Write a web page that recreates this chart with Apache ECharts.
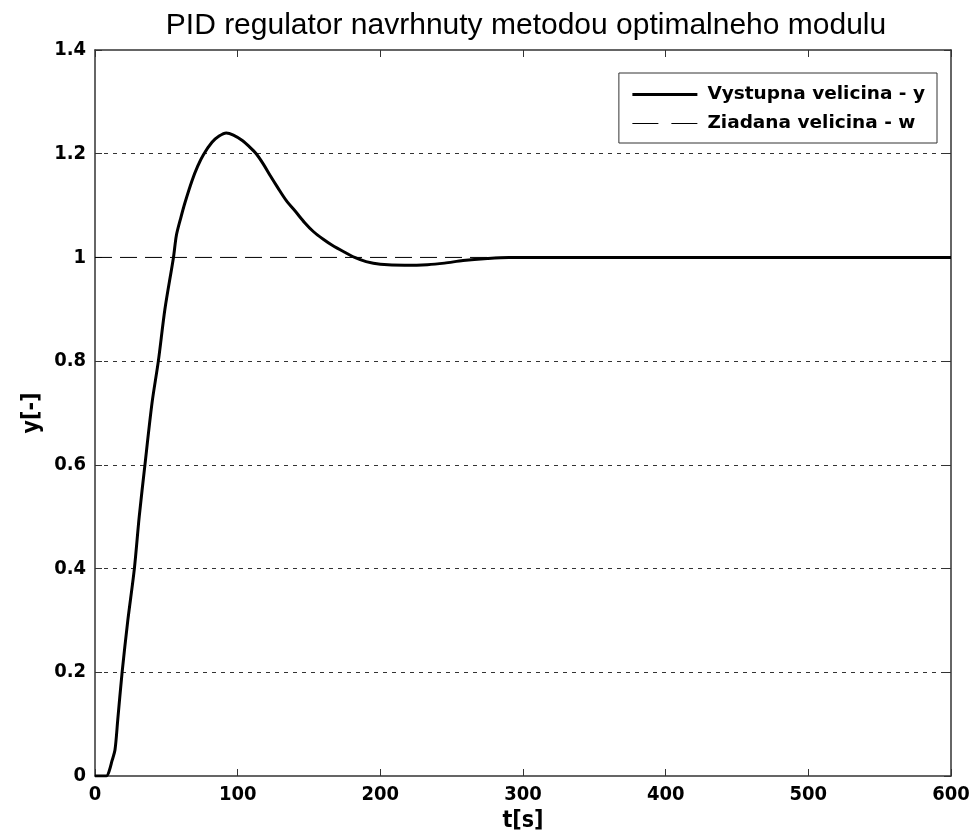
<!DOCTYPE html>
<html>
<head>
<meta charset="utf-8">
<script src="https://cdn.jsdelivr.net/npm/echarts@6/dist/echarts.min.js"></script>
<style>
html,body{margin:0;padding:0;background:#fff;}
#chart{width:976px;height:840px;}
</style>
</head>
<body>
<div id="chart"></div>
<script>
const titleText = 'PID regulator navrhnuty metodou optimalneho modulu';
const xTicks = [0, 100, 200, 300, 400, 500, 600];
const yTicks = [0, 0.2, 0.4, 0.6, 0.8, 1, 1.2, 1.4];
const seriesNames = ['Vystupna velicina - y', 'Ziadana velicina - w'];

// Output y(t)
const tValues = [0, 8, 10, 12, 14, 16, 19, 23, 27.6, 31, 35, 40, 44.4, 49, 55, 57, 60, 63, 68, 72, 76, 82, 87, 92, 97, 103, 108, 113, 118, 123, 128, 134, 141, 147, 153, 160, 166, 175, 182, 190, 200, 217, 233, 245, 258, 275, 290, 300, 400, 500, 600];
const yValues = [0, 0, 0.01, 0.03, 0.05, 0.11, 0.2, 0.3, 0.4, 0.5, 0.6, 0.72, 0.8, 0.9, 1.0, 1.042, 1.075, 1.105, 1.148, 1.176, 1.198, 1.222, 1.234, 1.24, 1.236, 1.226, 1.214, 1.2, 1.18, 1.157, 1.135, 1.11, 1.087, 1.067, 1.05, 1.035, 1.024, 1.01, 1.0, 0.992, 0.987, 0.985, 0.986, 0.989, 0.994, 0.998, 1.0, 1.0, 1.0, 1.0, 1.0];

// Reference w(t)
const wTimes = [0, 600];
const wValues = [1, 1];

const tickFont = "'DejaVu Sans Condensed', 'DejaVu Sans', sans-serif";
const chart = echarts.init(document.getElementById('chart'), null, {renderer: 'canvas'});

const gridColors = yTicks.map(v => (v === 0 || v === 1 || v === 1.4) ? 'rgba(0,0,0,0)' : '#333');

const option = {
  backgroundColor: '#fff',
  animation: false,
  title: {
    text: titleText,
    left: 521,
    textAlign: 'center',
    top: 6,
    textStyle: {fontFamily: "'Liberation Sans', Arial, sans-serif", fontSize: 30, fontWeight: 'normal', color: '#000'}
  },
  legend: {
    orient: 'vertical',
    right: 39,
    top: 73,
    padding: [12, 12, 10, 12],
    itemGap: 10,
    itemWidth: 65,
    itemHeight: 14,
    borderColor: '#333',
    borderWidth: 1,
    borderRadius: 0,
    backgroundColor: '#fff',
    itemStyle: {opacity: 0},
    data: [
      {name: seriesNames[0], lineStyle: {width: 3, color: '#000'}},
      {name: seriesNames[1], lineStyle: {width: 1, color: '#000', type: [26, 13]}}
    ],
    textStyle: {fontFamily: "'DejaVu Sans', sans-serif", fontSize: 18.5, fontWeight: 'bold', color: '#000', padding: [0, 0, 0, 5]}
  },
  grid: {left: 95, right: 25, top: 50, bottom: 64, containLabel: false},
  xAxis: [{
    type: 'value', min: 0, max: 600, interval: 100, position: 'bottom',
    name: 't[s]', nameLocation: 'middle', nameGap: 34,
    nameTextStyle: {fontFamily: tickFont, fontSize: 23, fontWeight: 'bold', color: '#000'},
    axisLine: {show: true, lineStyle: {color: '#333', width: 1.5}},
    axisTick: {show: true, inside: true, length: 7, lineStyle: {color: '#333'}},
    axisLabel: {margin: 9, fontFamily: tickFont, fontSize: 20, fontWeight: 'bold', color: '#000'},
    splitLine: {show: false}
  }, {
    type: 'value', min: 0, max: 600, interval: 100, position: 'top',
    axisLine: {show: true, onZero: false, lineStyle: {color: '#333', width: 1.5}},
    axisTick: {show: true, inside: true, length: 7, lineStyle: {color: '#333'}},
    axisLabel: {show: false},
    splitLine: {show: false}
  }],
  yAxis: [{
    type: 'value', min: 0, max: 1.4, interval: 0.2, position: 'left',
    name: 'y[-]', nameLocation: 'middle', nameGap: 51,
    nameTextStyle: {fontFamily: tickFont, fontSize: 23, fontWeight: 'bold', color: '#000'},
    axisLine: {show: true, lineStyle: {color: '#333', width: 1.5}},
    axisTick: {show: true, inside: true, length: 7, lineStyle: {color: '#333'}},
    axisLabel: {margin: 9, fontFamily: tickFont, fontSize: 20, fontWeight: 'bold', color: '#000'},
    splitLine: {show: true, lineStyle: {color: gridColors, width: 1, type: [4, 5]}}
  }, {
    type: 'value', min: 0, max: 1.4, interval: 0.2, position: 'right',
    axisLine: {show: true, onZero: false, lineStyle: {color: '#333', width: 1.5}},
    axisTick: {show: true, inside: true, length: 7, lineStyle: {color: '#333'}},
    axisLabel: {show: false},
    splitLine: {show: false}
  }],
  series: [{
    name: seriesNames[0],
    type: 'line',
    xAxisIndex: 0, yAxisIndex: 0,
    showSymbol: false, symbol: 'none',
    smooth: 0.3,
    lineStyle: {color: '#000', width: 3},
    itemStyle: {color: '#000'},
    data: tValues.map((t, i) => [t, yValues[i]]),
    z: 3
  }, {
    name: seriesNames[1],
    type: 'line',
    xAxisIndex: 0, yAxisIndex: 0,
    showSymbol: false, symbol: 'none',
    lineStyle: {color: '#000', width: 1, type: [17, 8]},
    itemStyle: {color: '#000'},
    data: wTimes.map((t, i) => [t, wValues[i]]),
    z: 2
  }]
};
chart.setOption(option);
</script>
</body>
</html>
